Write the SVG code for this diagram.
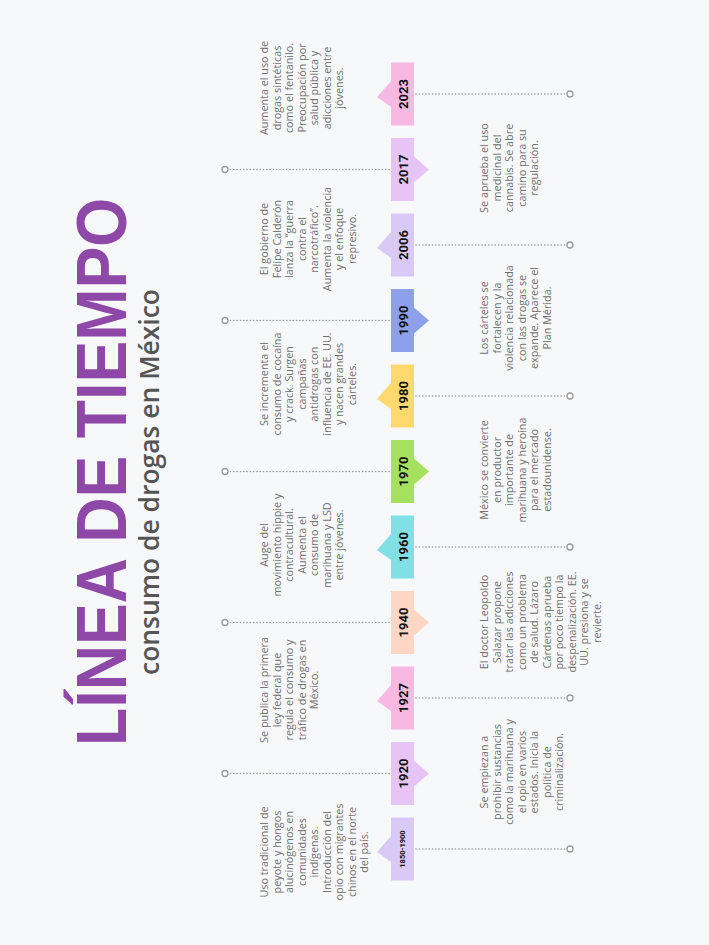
<svg xmlns="http://www.w3.org/2000/svg" width="709" height="945" viewBox="0 0 709 945">
<style>
.title{font-family:"Liberation Sans",Arial,sans-serif;font-weight:700;fill:#8e48a8}
.sub{font-family:"Open Sans","Liberation Sans",sans-serif;font-weight:600;fill:#555}
.yr{font-family:Roboto,"Liberation Sans",sans-serif;font-weight:700;fill:#111;text-anchor:middle}
.txt{font-family:"Open Sans","Liberation Sans",sans-serif;font-size:10.8px;fill:#707070;text-anchor:middle}
.dot{stroke:#9a9a9a;stroke-width:1.6;stroke-dasharray:0.1 3.2;stroke-linecap:round;fill:none}
.end{fill:#fff;stroke:#9a9a9a;stroke-width:1.3}
</style>
<rect width="709" height="945" fill="#f7f8fa"/>
<g transform="translate(0,945) rotate(-90)">
<text class="title" x="473" y="126" font-size="70" text-anchor="middle" textLength="548" lengthAdjust="spacingAndGlyphs">LÍNEA DE TIEMPO</text>
<text class="sub" x="463" y="159" font-size="27" text-anchor="middle" textLength="386" lengthAdjust="spacingAndGlyphs">consumo de drogas en México</text>

<g id="connectors">
<line class="dot" x1="96" y1="416" x2="96" y2="566"/><circle class="end" cx="96" cy="570" r="3"/>
<line class="dot" x1="171.5" y1="389" x2="171.5" y2="229"/><circle class="end" cx="171.5" cy="225" r="3"/>
<line class="dot" x1="247" y1="416" x2="247" y2="566"/><circle class="end" cx="247" cy="570" r="3"/>
<line class="dot" x1="322.5" y1="389" x2="322.5" y2="229"/><circle class="end" cx="322.5" cy="225" r="3"/>
<line class="dot" x1="398" y1="416" x2="398" y2="566"/><circle class="end" cx="398" cy="570" r="3"/>
<line class="dot" x1="473.5" y1="389" x2="473.5" y2="229"/><circle class="end" cx="473.5" cy="225" r="3"/>
<line class="dot" x1="549" y1="416" x2="549" y2="566"/><circle class="end" cx="549" cy="570" r="3"/>
<line class="dot" x1="624.5" y1="389" x2="624.5" y2="229"/><circle class="end" cx="624.5" cy="225" r="3"/>
<line class="dot" x1="700" y1="416" x2="700" y2="566"/><circle class="end" cx="700" cy="570" r="3"/>
<line class="dot" x1="775.5" y1="389" x2="775.5" y2="229"/><circle class="end" cx="775.5" cy="225" r="3"/>
<line class="dot" x1="851" y1="416" x2="851" y2="566"/><circle class="end" cx="851" cy="570" r="3"/>
</g>

<g id="n1850">
<rect x="64.5" y="391" width="63" height="23" fill="#d9c9f6"/>
<polygon points="83,391 109,391 93,377" fill="#d9c9f6"/>
<text class="yr" x="96" y="405" font-size="7.5">1850-1900</text>
<text class="txt" x="93" y="268"><tspan x="93">Uso tradicional de</tspan><tspan x="93" dy="12.5">peyote y hongos</tspan><tspan x="93" dy="12.5">alucinógenos en</tspan><tspan x="93" dy="12.5">comunidades</tspan><tspan x="93" dy="12.5">indígenas.</tspan><tspan x="93" dy="12.5">Introducción del</tspan><tspan x="93" dy="12.5">opio con migrantes</tspan><tspan x="93" dy="12.5">chinos en el norte</tspan><tspan x="93" dy="12.5">del país.</tspan></text>
</g>

<g id="n1920">
<rect x="140" y="391" width="63" height="23" fill="#e6c4f5"/>
<polygon points="158.5,414 184.5,414 171.5,429" fill="#e6c4f5"/>
<text class="yr" x="171.5" y="407.5" font-size="13">1920</text>
<text class="txt" x="173" y="488"><tspan x="173">Se empiezan a</tspan><tspan x="173" dy="12.5">prohibir sustancias</tspan><tspan x="173" dy="12.5">como la marihuana y</tspan><tspan x="173" dy="12.5">el opio en varios</tspan><tspan x="173" dy="12.5">estados. Inicia la</tspan><tspan x="173" dy="12.5">política de</tspan><tspan x="173" dy="12.5">criminalización.</tspan></text>
</g>

<g id="n1927">
<rect x="215.5" y="391" width="63" height="23" fill="#f7b9e2"/>
<polygon points="234,391 260,391 244,377" fill="#f7b9e2"/>
<text class="yr" x="247" y="407.5" font-size="13">1927</text>
<text class="txt" x="255" y="268"><tspan x="255">Se publica la primera</tspan><tspan x="255" dy="12.5">ley federal que</tspan><tspan x="255" dy="12.5">regula el consumo y</tspan><tspan x="255" dy="12.5">tráfico de drogas en</tspan><tspan x="255" dy="12.5">México.</tspan></text>
</g>

<g id="n1940">
<rect x="291" y="391" width="63" height="23" fill="#fdd6c6"/>
<polygon points="309.5,414 335.5,414 322.5,429" fill="#fdd6c6"/>
<text class="yr" x="322.5" y="407.5" font-size="13">1940</text>
<text class="txt" x="323" y="488"><tspan x="323">El doctor Leopoldo</tspan><tspan x="323" dy="12.5">Salazar propone</tspan><tspan x="323" dy="12.5">tratar las adicciones</tspan><tspan x="323" dy="12.5">como un problema</tspan><tspan x="323" dy="12.5">de salud. Lázaro</tspan><tspan x="323" dy="12.5">Cárdenas aprueba</tspan><tspan x="323" dy="12.5">por poco tiempo la</tspan><tspan x="323" dy="12.5">despenalización. EE.</tspan><tspan x="323" dy="12.5">UU. presiona y se</tspan><tspan x="323" dy="12.5">revierte.</tspan></text>
</g>

<g id="n1960">
<rect x="366.5" y="391" width="63" height="23" fill="#80e0e6"/>
<polygon points="385,391 411,391 395,377" fill="#80e0e6"/>
<text class="yr" x="398" y="407.5" font-size="13">1960</text>
<text class="txt" x="400" y="268"><tspan x="400">Auge del</tspan><tspan x="400" dy="12.5">movimiento hippie y</tspan><tspan x="400" dy="12.5">contracultural.</tspan><tspan x="400" dy="12.5">Aumenta el</tspan><tspan x="400" dy="12.5">consumo de</tspan><tspan x="400" dy="12.5">marihuana y LSD</tspan><tspan x="400" dy="12.5">entre jóvenes.</tspan></text>
</g>

<g id="n1970">
<rect x="442" y="391" width="63" height="23" fill="#a6e05f"/>
<polygon points="460.5,414 486.5,414 473.5,429" fill="#a6e05f"/>
<text class="yr" x="473.5" y="407.5" font-size="13">1970</text>
<text class="txt" x="475" y="488"><tspan x="475">México se convierte</tspan><tspan x="475" dy="12.5">en productor</tspan><tspan x="475" dy="12.5">importante de</tspan><tspan x="475" dy="12.5">marihuana y heroína</tspan><tspan x="475" dy="12.5">para el mercado</tspan><tspan x="475" dy="12.5">estadounidense.</tspan></text>
</g>

<g id="n1980">
<rect x="517.5" y="391" width="63" height="23" fill="#ffd96e"/>
<polygon points="536,391 562,391 546,377" fill="#ffd96e"/>
<text class="yr" x="549" y="407.5" font-size="13">1980</text>
<text class="txt" x="561" y="268"><tspan x="561">Se incrementa el</tspan><tspan x="561" dy="12.5">consumo de cocaína</tspan><tspan x="561" dy="12.5">y crack. Surgen</tspan><tspan x="561" dy="12.5">campañas</tspan><tspan x="561" dy="12.5">antidrogas con</tspan><tspan x="561" dy="12.5">influencia de EE. UU.</tspan><tspan x="561" dy="12.5">y nacen grandes</tspan><tspan x="561" dy="12.5">cárteles.</tspan></text>
</g>

<g id="n1990">
<rect x="593" y="391" width="63" height="23" fill="#8ea0ea"/>
<polygon points="611.5,414 637.5,414 624.5,429" fill="#8ea0ea"/>
<text class="yr" x="624.5" y="407.5" font-size="13">1990</text>
<text class="txt" x="627" y="488"><tspan x="627">Los cárteles se</tspan><tspan x="627" dy="12.5">fortalecen y la</tspan><tspan x="627" dy="12.5">violencia relacionada</tspan><tspan x="627" dy="12.5">con las drogas se</tspan><tspan x="627" dy="12.5">expande. Aparece el</tspan><tspan x="627" dy="12.5">Plan Mérida.</tspan></text>
</g>

<g id="n2006">
<rect x="668.5" y="391" width="63" height="23" fill="#d9c9f6"/>
<polygon points="687,391 713,391 697,377" fill="#d9c9f6"/>
<text class="yr" x="700" y="407.5" font-size="13">2006</text>
<text class="txt" x="706" y="268"><tspan x="706">El gobierno de</tspan><tspan x="706" dy="12.5">Felipe Calderón</tspan><tspan x="706" dy="12.5">lanza la “guerra</tspan><tspan x="706" dy="12.5">contra el</tspan><tspan x="706" dy="12.5">narcotráfico”.</tspan><tspan x="706" dy="12.5">Aumenta la violencia</tspan><tspan x="706" dy="12.5">y el enfoque</tspan><tspan x="706" dy="12.5">represivo.</tspan></text>
</g>

<g id="n2017">
<rect x="744" y="391" width="63" height="23" fill="#e6c4f5"/>
<polygon points="762.5,414 788.5,414 775.5,429" fill="#e6c4f5"/>
<text class="yr" x="775.5" y="407.5" font-size="13">2017</text>
<text class="txt" x="777" y="488"><tspan x="777">Se aprueba el uso</tspan><tspan x="777" dy="12.5">medicinal del</tspan><tspan x="777" dy="12.5">cannabis. Se abre</tspan><tspan x="777" dy="12.5">camino para su</tspan><tspan x="777" dy="12.5">regulación.</tspan></text>
</g>

<g id="n2023">
<rect x="819.5" y="391" width="63" height="23" fill="#f7b9e2"/>
<polygon points="838,391 864,391 848,377" fill="#f7b9e2"/>
<text class="yr" x="851" y="407.5" font-size="13">2023</text>
<text class="txt" x="857" y="268"><tspan x="857">Aumenta el uso de</tspan><tspan x="857" dy="12.5">drogas sintéticas</tspan><tspan x="857" dy="12.5">como el fentanilo.</tspan><tspan x="857" dy="12.5">Preocupación por</tspan><tspan x="857" dy="12.5">salud pública y</tspan><tspan x="857" dy="12.5">adicciones entre</tspan><tspan x="857" dy="12.5">jóvenes.</tspan></text>
</g>
</g>
</svg>
